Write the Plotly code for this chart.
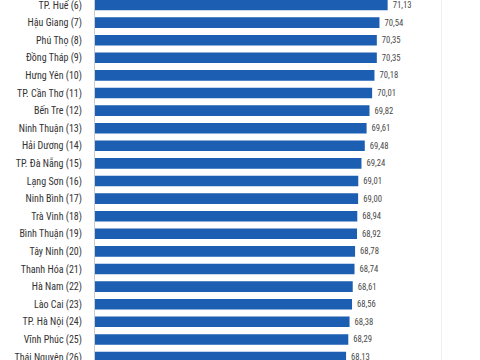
import plotly.graph_objects as go

provinces = [
    "TP. Huế (6)", "Hậu Giang (7)", "Phú Thọ (8)", "Đồng Tháp (9)", "Hưng Yên (10)",
    "TP. Cần Thơ (11)", "Bến Tre (12)", "Ninh Thuận (13)", "Hải Dương (14)",
    "TP. Đà Nẵng (15)", "Lạng Sơn (16)", "Ninh Bình (17)", "Trà Vinh (18)",
    "Bình Thuận (19)", "Tây Ninh (20)", "Thanh Hóa (21)", "Hà Nam (22)",
    "Lào Cai (23)", "TP. Hà Nội (24)", "Vĩnh Phúc (25)", "Thái Nguyên (26)",
]
scores = [
    71.13, 70.54, 70.35, 70.35, 70.18, 70.01, 69.82, 69.61, 69.48, 69.24,
    69.01, 69.00, 68.94, 68.92, 68.78, 68.74, 68.61, 68.56, 68.38, 68.29, 68.13,
]

FONT = "Roboto Condensed, Liberation Sans Narrow, Roboto, sans-serif"

fig = go.Figure(go.Bar(
    x=scores,
    y=provinces,
    orientation="h",
    marker=dict(color="#1b5eb2", line=dict(width=0)),
    width=0.6,
    text=scores,
    texttemplate="\u00a0%{x:.2f}",
    textposition="outside",
    textfont=dict(family=FONT, size=11.5, color="#4a4a4a"),
    cliponaxis=False,
))

fig.update_layout(
    width=480, height=360,
    margin=dict(l=95, r=0, t=0, b=0),
    paper_bgcolor="white", plot_bgcolor="white",
    separators=",.",
    showlegend=False,
    font=dict(family=FONT, size=10, color="#333333"),
)
fig.update_xaxes(
    range=[50, 77.8],
    tickvals=[75],
    showticklabels=False,
    showgrid=True, gridcolor="#f0f0f0", gridwidth=1,
    zeroline=False, showline=False,
    automargin=False,
)
fig.update_yaxes(
    type="category",
    categoryorder="array", categoryarray=provinces,
    range=[20.17, -0.284],
    ticks="",
    showline=True, linecolor="#cccccc", linewidth=1,
    ticklabelstandoff=10,
    tickfont=dict(family=FONT, size=10, color="#333333"),
    showgrid=False,
    automargin=False,
)

css = (
    "var s=document.createElement('style');"
    "s.textContent='.main-svg text{font-stretch:condensed !important;}';"
    "document.head.appendChild(s);"
    "document.body.style.margin='0';document.body.style.overflow='hidden';"
)

fig.write_html(
    "out.html",
    config={"displayModeBar": False},
    post_script=css,
)
